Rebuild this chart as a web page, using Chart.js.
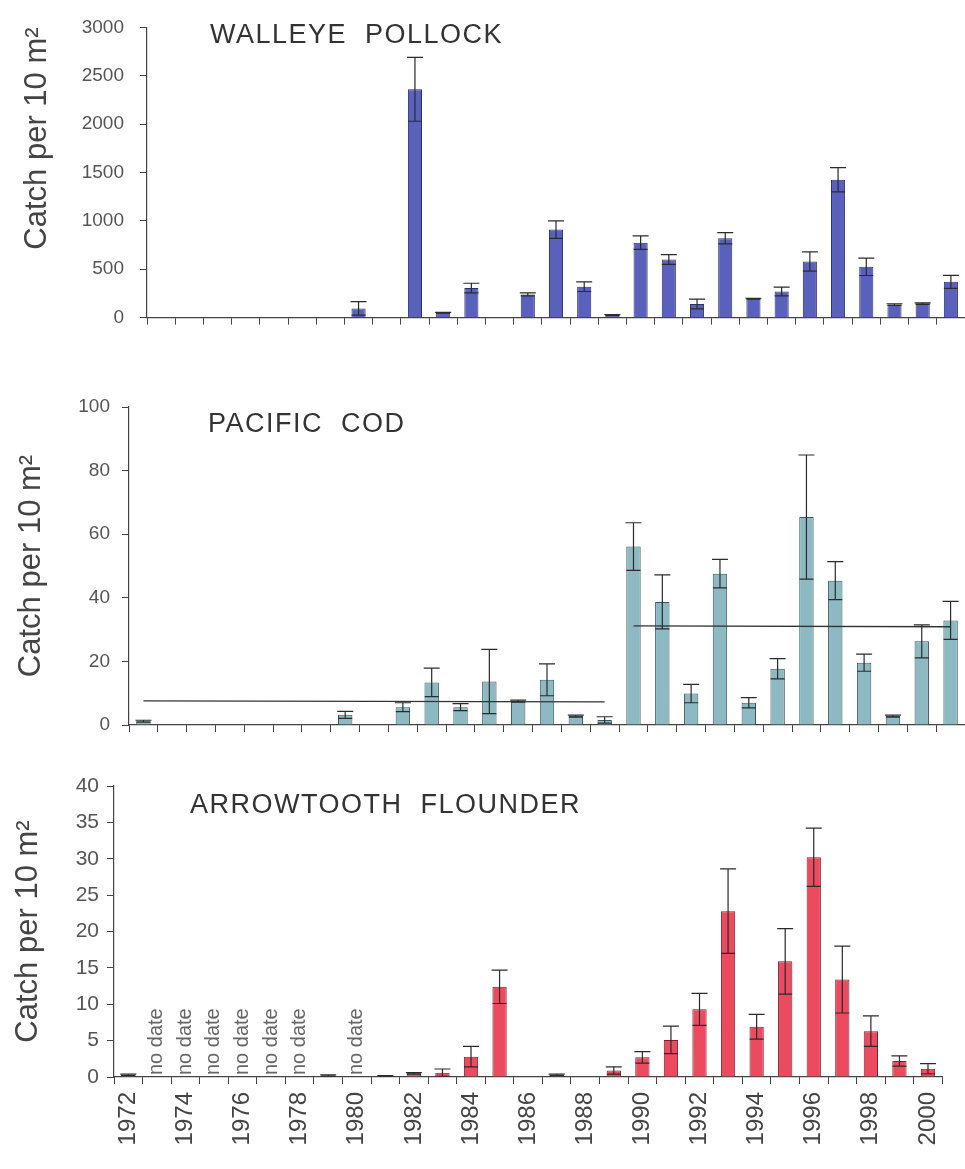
<!DOCTYPE html>
<html>
<head>
<meta charset="utf-8">
<title>Catch per 10 m2</title>
<script src="https://cdn.jsdelivr.net/npm/chart.js@4.4.1/dist/chart.umd.min.js"></script>
<style>
    html, body { margin: 0; padding: 0; background: #ffffff; }
    body { width: 965px; height: 1169px; position: relative; overflow: hidden; }
    canvas { position: absolute; left: 0; }
    #walleye_Chart { top: 0; }
    #cod_Chart { top: 360px; }
    #arrow_Chart { top: 760px; }
</style>
</head>
<body>
<canvas id="walleye_Chart" width="965" height="345"></canvas>
<canvas id="cod_Chart" width="965" height="390"></canvas>
<canvas id="arrow_Chart" width="965" height="409"></canvas>

<script>
//--------------------------------------------------------------------------------------//
//--------------------------------------- Data -----------------------------------------//
//--------------------------------------------------------------------------------------//
var years = ['1972', '1973', '1974', '1975', '1976', '1977', '1978', '1979', '1980', '1981',
    '1982', '1983', '1984', '1985', '1986', '1987', '1988', '1989', '1990', '1991',
    '1992', '1993', '1994', '1995', '1996', '1997', '1998', '1999', '2000'];

// walleye pollock : mean and error (upper half)
var pollockMean = [null, null, null, null, null, null, null, 95, null, 2360,
    50, 305, 0, 240, 910, 320, 25, 775, 600, 140,
    820, 195, 270, 580, 1425, 525, 135, 145, 370];
var pollockErr = [null, null, null, null, null, null, null, 70, null, 330,
    5, 50, null, 15, 90, 50, 5, 70, 50, 50,
    58, 5, 45, 100, 125, 90, 8, 8, 67];

// pacific cod
var codMean = [1.2, null, null, null, null, null, null, 3.2, null, 5.6,
    13.4, 5.6, 13.7, 7.5, 14.2, 2.8, 1.6, 56.1, 38.7, 9.9,
    47.6, 7.0, 17.7, 65.4, 45.4, 19.6, 2.8, 26.3, 32.9];
var codErr = [0.3, null, null, null, null, null, null, 1.1, null, 1.4,
    4.5, 1.1, 10.1, 0.3, 5.0, 0.3, 1.0, 7.5, 8.5, 2.9,
    4.5, 1.6, 3.2, 19.5, 6.0, 2.7, 0.3, 5.2, 6.0];

// pacific cod : period mean lines
var codTrend1Years = ['1972', '1988'];
var codTrend1 = [7.6, 7.3];
var codTrend2Years = ['1989', '2000'];
var codTrend2 = [31.2, 30.9];

// arrowtooth flounder
var arrowMean = [0.3, null, null, null, null, null, null, 0.2, null, 0.15,
    0.5, 0.6, 2.8, 12.4, 0, 0.3, 0, 0.9, 2.7, 5.1,
    9.3, 22.8, 6.9, 15.9, 30.2, 13.4, 6.3, 2.2, 1.15];
var arrowErr = [0.1, null, null, null, null, null, null, 0.1, null, 0.05,
    0.1, 0.5, 1.4, 2.3, null, 0.1, null, 0.5, 0.8, 1.9,
    2.2, 5.8, 1.7, 4.5, 4.0, 4.6, 2.1, 0.7, 0.7];

var noDataYears = ['1973', '1974', '1975', '1976', '1977', '1978', '1980'];
var noDataText = 'no date';

var yTitle = 'Catch per 10 m\u00B2';

//--------------------------------------------------------------------------------------//
//-------------------------------------- Plugins ---------------------------------------//
//--------------------------------------------------------------------------------------//
Chart.defaults.font.family = "'Liberation Sans', Arial, sans-serif";
Chart.defaults.color = '#555';

// error bars drawn over each bar (line + caps)
var errorBars = {
    id: 'errorBars',
    afterDatasetsDraw: function (chart) {
        var ctx = chart.ctx;
        var y = chart.scales.y;
        chart.data.datasets.forEach(function (ds, di) {
            if (!ds.errors) return;
            var meta = chart.getDatasetMeta(di);
            meta.data.forEach(function (bar, i) {
                var v = ds.data[i];
                var e = ds.errors[i];
                if (v == null || e == null) return;
                var yHi = y.getPixelForValue(v + e);
                var yLo = y.getPixelForValue(Math.max(v - e, 0));
                var half = 8;
                ctx.save();
                ctx.strokeStyle = '#2b2b2b';
                ctx.lineWidth = 1.2;
                ctx.beginPath();
                ctx.moveTo(bar.x, yLo);
                ctx.lineTo(bar.x, yHi);
                ctx.moveTo(bar.x - half, yHi);
                ctx.lineTo(bar.x + half, yHi);
                ctx.moveTo(bar.x - 7, yLo);
                ctx.lineTo(bar.x + 7, yLo);
                ctx.stroke();
                ctx.restore();
            });
        });
    }
};

// species name written inside the plot
var panelTitle = {
    id: 'panelTitle',
    afterDraw: function (chart, args, opts) {
        if (!opts.text) return;
        var ctx = chart.ctx;
        ctx.save();
        ctx.font = '27px ' + Chart.defaults.font.family;
        ctx.letterSpacing = '1.5px';
        ctx.fillStyle = '#333';
        ctx.textAlign = 'left';
        ctx.textBaseline = 'alphabetic';
        ctx.fillText(opts.text, opts.x, opts.y);
        ctx.restore();
    }
};

// "no date" notes standing on the axis
var noDate = {
    id: 'noDate',
    afterDatasetsDraw: function (chart, args, opts) {
        if (!opts.years) return;
        var ctx = chart.ctx;
        var x = chart.scales.x;
        var y0 = chart.scales.y.getPixelForValue(0);
        ctx.save();
        ctx.font = '20px ' + Chart.defaults.font.family;
        ctx.fillStyle = '#666';
        ctx.textAlign = 'left';
        ctx.textBaseline = 'middle';
        opts.years.forEach(function (yr) {
            var px = x.getPixelForValue(years.indexOf(yr));
            ctx.save();
            ctx.translate(px, y0 - 2);
            ctx.rotate(-Math.PI / 2);
            ctx.fillText(opts.text, 0, 0);
            ctx.restore();
        });
        ctx.restore();
    }
};

//--------------------------------------------------------------------------------------//
//-------------------------------------- Charts ----------------------------------------//
//--------------------------------------------------------------------------------------//
function xAxis(height, showLabels) {
    return {
        type: 'category',
        offset: true,
        grid: {
            display: true,
            drawOnChartArea: false,
            drawTicks: true,
            tickLength: 7,
            color: '#444',
            offset: true
        },
        border: { color: '#444', width: 1.2 },
        ticks: showLabels ? {
            display: true,
            autoSkip: false,
            maxRotation: 90,
            minRotation: 90,
            padding: 8,
            color: '#444',
            font: { size: 24 },
            callback: function (val, i) {
                return i % 2 === 0 ? years[i] : '';
            }
        } : { display: false },
        afterFit: function (s) { s.height = height; }
    };
}

function yAxis(max, step, width, tickPad, fontSize, titlePad, titleAlign) {
    return {
        min: 0,
        max: max,
        grid: {
            display: true,
            drawOnChartArea: false,
            drawTicks: true,
            tickLength: 7,
            color: '#444'
        },
        border: { color: '#444', width: 1.2 },
        ticks: {
            stepSize: step,
            padding: tickPad,
            color: '#555',
            font: { size: fontSize },
            // plain numbers, no thousands separator
            callback: function (val) { return String(val); }
        },
        title: {
            display: true,
            text: yTitle,
            color: '#444',
            align: titleAlign,
            font: { size: 31 },
            padding: { top: titlePad, bottom: 0 }
        },
        afterFit: function (s) { s.width = width; }
    };
}

function barSet(values, errors, fill, edge) {
    return {
        type: 'bar',
        data: values,
        errors: errors,
        backgroundColor: fill,
        borderColor: edge,
        borderWidth: 1,
        barPercentage: 0.5,
        categoryPercentage: 1.0,
        order: 1
    };
}

function trendSet(xs, ys) {
    return {
        type: 'line',
        data: xs.map(function (x, i) { return { x: x, y: ys[i] }; }),
        borderColor: '#333',
        borderWidth: 1.3,
        pointRadius: 0,
        fill: false,
        order: 0
    };
}

function baseOptions(pad, xA, yA, title, extra) {
    var plugins = {
        legend: { display: false },
        tooltip: { enabled: false },
        panelTitle: title
    };
    if (extra) plugins.noDate = extra;
    return {
        responsive: false,
        animation: false,
        devicePixelRatio: 1,
        layout: { padding: pad },
        scales: { x: xA, y: yA },
        plugins: plugins
    };
}

//------------* Walleye pollock *------------//
var walleyeChart = new Chart(document.getElementById('walleye_Chart'), {
    type: 'bar',
    data: {
        labels: years,
        datasets: [barSet(pollockMean, pollockErr, '#5a61bd', '#2c3070')]
    },
    options: baseOptions({ left: 0, top: 25, right: 0, bottom: 3 },
        xAxis(20, false),
        yAxis(3000, 500, 147, 16, 19, 19, 'end'),
        { text: 'WALLEYE  POLLOCK', x: 210, y: 43 }),
    plugins: [errorBars, panelTitle]
});

//------------* Pacific cod *------------//
var codChart = new Chart(document.getElementById('cod_Chart'), {
    type: 'bar',
    data: {
        labels: years,
        datasets: [
            barSet(codMean, codErr, '#8dbac2', '#3c585e'),
            trendSet(codTrend1Years, codTrend1),
            trendSet(codTrend2Years, codTrend2)
        ]
    },
    options: baseOptions({ left: 0, top: 47, right: 0, bottom: 5 },
        xAxis(20, false),
        yAxis(100, 20, 129, 12, 19, 13, 'center'),
        { text: 'PACIFIC  COD', x: 208, y: 72 }),
    plugins: [errorBars, panelTitle]
});

//------------* Arrowtooth flounder *------------//
var arrowChart = new Chart(document.getElementById('arrow_Chart'), {
    type: 'bar',
    data: {
        labels: years,
        datasets: [barSet(arrowMean, arrowErr, '#ec4a5f', '#7a2232')]
    },
    options: baseOptions({ left: 0, top: 26, right: 12, bottom: 0 },
        xAxis(92, true),
        yAxis(40, 5, 114, 8, 21, 10, 'center'),
        { text: 'ARROWTOOTH  FLOUNDER', x: 190, y: 53 },
        { years: noDataYears, text: noDataText }),
    plugins: [errorBars, panelTitle, noDate]
});
</script>
</body>
</html>
